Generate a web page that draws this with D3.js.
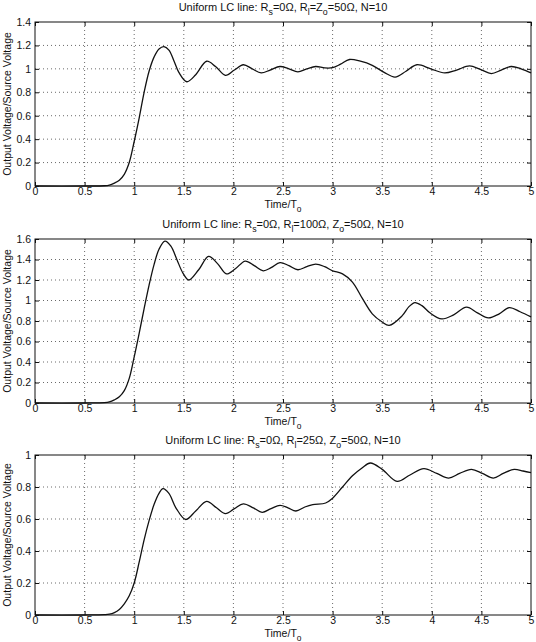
<!DOCTYPE html>
<html lang="en">
<head>
<meta charset="utf-8">
<title>Uniform LC line</title>
<style>
  body { margin: 0; background: #fff; }
  svg text { font-family: "Liberation Sans", Arial, Helvetica, sans-serif; fill: #111; }
  .grid line { stroke: #444; stroke-dasharray: 1,3; stroke-width: 0.8; }
  .tick line { stroke: #111; }
  .curve { fill: none; stroke: #111; stroke-width: 1.3; }
</style>
</head>
<body>
<div id="chart"></div>
<script src="https://cdn.jsdelivr.net/npm/d3@7"></script>
<script>
var width = 536, height = 642;

// shared x axis
var xTicks = [0, 0.5, 1, 1.5, 2, 2.5, 3, 3.5, 4, 4.5, 5];

// panel 1: Rl = Zo = 50 ohm
var t1 = [0, 0.5, 0.7, 0.75, 0.8, 0.85, 0.9, 0.95, 1.0, 1.05, 1.1, 1.15, 1.2, 1.25, 1.3, 1.35, 1.4, 1.45, 1.53, 1.62, 1.73, 1.82, 1.92, 2.01, 2.1, 2.19, 2.28, 2.37, 2.47, 2.56, 2.65, 2.74, 2.83, 2.92, 3.0, 3.08, 3.17, 3.28, 3.4, 3.52, 3.63, 3.74, 3.85, 3.99, 4.13, 4.25, 4.38, 4.49, 4.6, 4.7, 4.8, 4.9, 5.0];
var v1 = [0, 0, 0.002, 0.008, 0.025, 0.05, 0.1, 0.2, 0.38, 0.58, 0.8, 0.98, 1.1, 1.17, 1.19, 1.16, 1.07, 0.97, 0.89, 0.95, 1.065, 1.02, 0.945, 0.99, 1.035, 1.0, 0.965, 0.99, 1.02, 1.0, 0.975, 1.0, 1.02, 1.008, 1.01, 1.04, 1.08, 1.065, 1.03, 0.97, 0.93, 0.98, 1.035, 1.0, 0.965, 0.99, 1.025, 0.995, 0.96, 0.99, 1.02, 1.0, 0.965];
var yTicks1 = [0, 0.2, 0.4, 0.6, 0.8, 1, 1.2, 1.4];

// panel 2: Rl = 100 ohm
var t2 = [0, 0.5, 0.7, 0.75, 0.8, 0.85, 0.9, 0.95, 1.0, 1.05, 1.1, 1.15, 1.2, 1.25, 1.31, 1.37, 1.43, 1.49, 1.55, 1.65, 1.75, 1.84, 1.93, 2.02, 2.12, 2.21, 2.3, 2.38, 2.47, 2.56, 2.65, 2.74, 2.83, 2.92, 3.0, 3.1, 3.2, 3.3, 3.4, 3.5, 3.57, 3.7, 3.77, 3.83, 3.9, 3.98, 4.1, 4.22, 4.35, 4.46, 4.57, 4.68, 4.78, 4.89, 5.0];
var v2 = [0, 0, 0.003, 0.01, 0.03, 0.06, 0.12, 0.24, 0.45, 0.68, 0.92, 1.15, 1.35, 1.5, 1.58, 1.53, 1.4, 1.27, 1.2, 1.3, 1.43, 1.36, 1.26, 1.31, 1.385, 1.34, 1.29, 1.32, 1.37, 1.34, 1.3, 1.33, 1.355, 1.33, 1.29, 1.26, 1.18, 1.02, 0.87, 0.79, 0.757, 0.85, 0.94, 0.98, 0.95, 0.88, 0.82, 0.86, 0.935, 0.88, 0.83, 0.87, 0.93, 0.89, 0.84];
var yTicks2 = [0, 0.2, 0.4, 0.6, 0.8, 1, 1.2, 1.4, 1.6];

// panel 3: Rl = 25 ohm
var t3 = [0, 0.5, 0.7, 0.75, 0.8, 0.85, 0.9, 0.95, 1.0, 1.05, 1.1, 1.15, 1.2, 1.25, 1.29, 1.35, 1.42, 1.52, 1.62, 1.73, 1.83, 1.92, 2.01, 2.1, 2.2, 2.29, 2.38, 2.47, 2.55, 2.63, 2.72, 2.8, 2.93, 3.0, 3.1, 3.2, 3.3, 3.38, 3.5, 3.65, 3.78, 3.92, 4.05, 4.17, 4.28, 4.4, 4.51, 4.62, 4.72, 4.83, 4.92, 5.0];
var v3 = [0, 0, 0.002, 0.005, 0.015, 0.035, 0.07, 0.12, 0.2, 0.33, 0.47, 0.59, 0.69, 0.76, 0.79, 0.76, 0.67, 0.597, 0.65, 0.71, 0.67, 0.634, 0.665, 0.695, 0.67, 0.642, 0.665, 0.685, 0.67, 0.65, 0.675, 0.69, 0.70, 0.73, 0.8, 0.87, 0.92, 0.95, 0.91, 0.835, 0.875, 0.915, 0.885, 0.856, 0.885, 0.91, 0.885, 0.856, 0.885, 0.91, 0.9, 0.89];
var yTicks3 = [0, 0.2, 0.4, 0.6, 0.8, 1];

// titles, _{..} marks a subscript
var titles = [
  "Uniform LC line: R_{s}=0\u03a9, R_{l}=Z_{o}=50\u03a9, N=10",
  "Uniform LC line: R_{s}=0\u03a9, R_{l}=100\u03a9, Z_{o}=50\u03a9, N=10",
  "Uniform LC line: R_{s}=0\u03a9, R_{l}=25\u03a9, Z_{o}=50\u03a9, N=10"
];
var xLabel = "Time/T_{o}";
var yLabel = "Output Voltage/Source Voltage";

var panels = [
  { t: t1, v: v1, yTicks: yTicks1, title: titles[0], top: 22,  bottom: 186 },
  { t: t2, v: v2, yTicks: yTicks2, title: titles[1], top: 239, bottom: 403 },
  { t: t3, v: v3, yTicks: yTicks3, title: titles[2], top: 455, bottom: 615 }
];

var left = 35, right = 531;

var svg = d3.select("#chart")
  .append("svg")
  .attr("width", width)
  .attr("height", height);

svg.append("rect").attr("width", width).attr("height", height).attr("fill", "#fff");

// write text with subscripts into a <text>
function richText(sel, str, size) {
  var parts = str.split(/_\{([^}]*)\}/);
  parts.forEach(function(p, i) {
    if (!p) return;
    var sub = i % 2 === 1;
    var ts = sel.append("tspan").text(p);
    if (sub) {
      ts.attr("font-size", size * 0.8).attr("dy", size * 0.35);
    } else if (i > 0) {
      ts.attr("dy", -size * 0.35);
    }
  });
}

var fmt = function(d) { return String(+d.toFixed(1)); };

panels.forEach(function(p) {
  var x = d3.scaleLinear().domain([0, 5]).range([left, right]);
  var y = d3.scaleLinear().domain([0, d3.max(p.yTicks)]).range([p.bottom, p.top]);
  var g = svg.append("g");

  // dotted grid
  var grid = g.append("g").attr("class", "grid");
  grid.selectAll(".gx").data(xTicks.slice(1, -1)).enter().append("line")
    .attr("x1", function(d) { return x(d); }).attr("x2", function(d) { return x(d); })
    .attr("y1", p.top).attr("y2", p.bottom);
  grid.selectAll(".gy").data(p.yTicks.slice(1, -1)).enter().append("line")
    .attr("x1", left).attr("x2", right)
    .attr("y1", function(d) { return y(d); }).attr("y2", function(d) { return y(d); });

  // axes, ticks pointing inward
  var ax = g.append("g").attr("transform", "translate(0," + p.bottom + ")")
    .call(d3.axisBottom(x).tickValues(xTicks).tickSize(-4).tickPadding(2).tickFormat(fmt));
  var axTop = g.append("g").attr("transform", "translate(0," + p.top + ")")
    .call(d3.axisTop(x).tickValues(xTicks).tickSize(-4).tickFormat(""));
  var ay = g.append("g").attr("transform", "translate(" + left + ",0)")
    .call(d3.axisLeft(y).tickValues(p.yTicks).tickSize(-4).tickPadding(4).tickFormat(fmt));
  var ayR = g.append("g").attr("transform", "translate(" + right + ",0)")
    .call(d3.axisRight(y).tickValues(p.yTicks).tickSize(-4).tickFormat(""));
  [ax, axTop, ay, ayR].forEach(function(a) {
    a.select(".domain").remove();
    a.selectAll("text").attr("font-size", 10.5).attr("fill", "#111")
      .attr("font-family", "Liberation Sans, Arial, sans-serif");
  });

  // curve
  var pts = p.t.map(function(t, i) { return [t, p.v[i]]; });
  g.append("path")
    .attr("class", "curve")
    .attr("d", d3.line()
      .x(function(d) { return x(d[0]); })
      .y(function(d) { return y(Math.max(0, d[1])); })
      .curve(d3.curveCatmullRom.alpha(0.5))(pts));

  // frame
  g.append("rect")
    .attr("x", left).attr("y", p.top)
    .attr("width", right - left).attr("height", p.bottom - p.top)
    .attr("fill", "none").attr("stroke", "#111").attr("stroke-width", 1);

  // title
  var tt = g.append("text")
    .attr("x", (left + right) / 2).attr("y", p.top - 11)
    .attr("text-anchor", "middle").attr("font-size", 11);
  richText(tt, p.title, 11);

  // x label
  var xl = g.append("text")
    .attr("x", (left + right) / 2).attr("y", p.bottom + 22)
    .attr("text-anchor", "middle").attr("font-size", 10.5);
  richText(xl, xLabel, 10.5);

  // y label
  g.append("text")
    .attr("transform", "translate(11," + ((p.top + p.bottom) / 2) + ") rotate(-90)")
    .attr("text-anchor", "middle").attr("font-size", 10.5)
    .text(yLabel);
});
</script>
</body>
</html>
